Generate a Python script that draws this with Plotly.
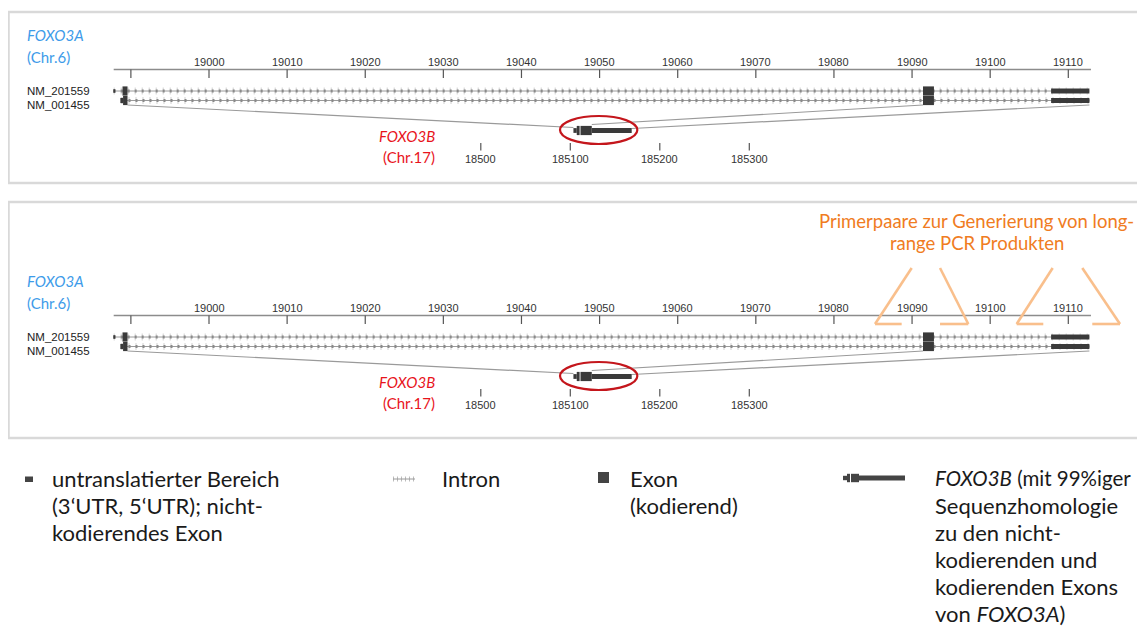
import plotly.graph_objects as go

# ---------------- data ----------------
chr6_tick_kb = [18990, 19000, 19010, 19020, 19030, 19040, 19050, 19060, 19070, 19080, 19090, 19100, 19110]
chr6_tick_labels = ["", "19000", "19010", "19020", "19030", "19040", "19050", "19060",
                    "19070", "19080", "19090", "19100", "19110"]
chr6_axis_span = [18987.8, 19112.9]

chr17_tick_pos = [185000, 185100, 185200, 185300]
chr17_tick_labels = ["18500", "185100", "185200", "185300"]

transcripts = ["NM_201559", "NM_001455"]
transcript_start = [18987.8, 18988.8]
transcript_end = [19112.7, 19112.7]
exons_nm201559 = [(18987.75, 18988.0, "dot"), (18988.93, 18989.57, "cds"),
                  (19091.4, 19092.8, "cds"), (19107.8, 19112.7, "utr")]
exons_nm001455 = [(18988.65, 18989.0, "utr"), (18989.0, 18989.57, "cds"),
                  (19091.4, 19092.8, "cds"), (19107.8, 19112.7, "utr")]
transcript_exons = [exons_nm201559, exons_nm001455]

foxo3b_parts = [(185103.5, 185107.2, "utr"), (185107.2, 185110.4, "cds"),
                (185111.4, 185124.0, "cds"), (185124.0, 185168.6, "utr")]
foxo3b_ellipse = [185088.5, 185174.9]

# homology links: (chr6 kb, chr17 position)
links = [(18989.57, 185103.5), (19091.4, 185124.0), (19112.7, 185168.6)]

# primer pairs (bottom panel): horizontal segment kb and apex kb of diagonal
primer_seg = [(19085.26, 19088.67), (19093.58, 19097.20), (19103.39, 19106.80), (19113.07, 19116.62)]
primer_apex = [19089.95, 19093.58, 19108.0, 19111.79]
primer_foot = [19085.26, 19097.20, 19103.39, 19116.62]

legend_items = [
    ["untranslatierter Bereich", "(3‘UTR, 5‘UTR); nicht-", "kodierendes Exon"],
    ["Intron"],
    ["Exon", "(kodierend)"],
    ["<i>FOXO3B</i> (mit 99%iger", "Sequenzhomologie", "zu den nicht-", "kodierenden und",
     "kodierenden Exons", "von <i>FOXO3A</i>)"],
]

# ---------------- layout constants ----------------
W, H = 1145, 628          # page size
OX, OY = 8, 8             # default page body margin
FW, FH = W - OX, H - OY   # figure size
PX_PER_KB = 7.8118
KB0 = 19000 - 209 / PX_PER_KB           # kb at page x = 0
X_RANGE = [KB0 + OX / PX_PER_KB, KB0 + W / PX_PER_KB]
PX_PER_U17 = 0.895
U17_0 = 185100 - 570.3 / PX_PER_U17     # chr17 unit at page x = 0
X2_RANGE = [U17_0 + OX / PX_PER_U17, U17_0 + W / PX_PER_U17]
PANEL_OFFSETS = [0, 246]
AXIS_Y = 69.5
TICK_LABEL_Y = 62
ROW_Y = [91, 100.5]
ROW_LABEL_Y = [90.5, 104.5]
F3B_Y = 130.5
DARK = "#3a3a3a"
GREY = "#8c8c8c"
BLUE = "#3d9be9"
RED = "#e8141c"
ORANGE = "#f07c22"
AXFONT = "Liberation Sans"
TXTFONT = "Lato"


def px(xp):
    return (xp - OX) / FW


def c17_to_c6(v):
    return X_RANGE[0] + (v - X2_RANGE[0]) / (X2_RANGE[1] - X2_RANGE[0]) * (X_RANGE[1] - X_RANGE[0])


fig = go.Figure()
shapes = []
annotations = []

for off in PANEL_OFFSETS:
    # chr6 axis line
    fig.add_trace(go.Scatter(x=chr6_axis_span, y=[AXIS_Y + off] * 2, mode="lines",
                             line=dict(color=GREY, width=1.6), hoverinfo="skip", showlegend=False))
    tx, ty = [], []
    for k in chr6_tick_kb:
        tx += [k, k, None]
        ty += [AXIS_Y + off, AXIS_Y + off + 8.5, None]
    fig.add_trace(go.Scatter(x=tx, y=ty, mode="lines", line=dict(color="#555555", width=1.2),
                             hoverinfo="skip", showlegend=False))
    for k, lab in zip(chr6_tick_kb, chr6_tick_labels):
        if lab:
            annotations.append(dict(x=k, y=TICK_LABEL_Y + off, xref="x", yref="y", text=lab,
                                    showarrow=False, xanchor="center",
                                    font=dict(family=AXFONT, size=11, color="#333333")))

    # transcripts: introns
    for i in range(2):
        yy = ROW_Y[i] + off
        xs = [transcript_start[i], transcript_end[i]]
        fig.add_trace(go.Scatter(x=xs, y=[yy, yy], mode="lines",
                                 line=dict(color="rgba(190,190,190,0.7)", width=7, dash="1px,6px"),
                                 hoverinfo="skip", showlegend=False))
        fig.add_trace(go.Scatter(x=xs, y=[yy, yy], mode="lines",
                                 line=dict(color="#9a9a9a", width=1),
                                 hoverinfo="skip", showlegend=False))
        fig.add_trace(go.Scatter(x=xs, y=[yy, yy], mode="lines",
                                 line=dict(color="#8a8a8a", width=3, dash="2px,5px"),
                                 hoverinfo="skip", showlegend=False))
        for (s, e, kind) in transcript_exons[i]:
            h = {"cds": 4.6, "utr": 2.6, "dot": 1.8}[kind]
            shapes.append(dict(type="rect", xref="x", yref="y", x0=s, x1=e, y0=yy - h, y1=yy + h,
                               fillcolor=DARK, line=dict(width=0)))
        annotations.append(dict(x=px(25), y=ROW_LABEL_Y[i] + off, xref="paper", yref="y",
                                text=transcripts[i], showarrow=False, xanchor="left",
                                font=dict(family=AXFONT, size=11.5, color="#222222")))

    # homology links
    link_end_y = [127.5, 124.5, 128.5]
    for (k6, p17), ey in zip(links, link_end_y):
        fig.add_trace(go.Scatter(x=[k6, c17_to_c6(p17)], y=[ROW_Y[1] + off + 4.5, ey + off],
                                 mode="lines", line=dict(color="#9a9a9a", width=1.2),
                                 hoverinfo="skip", showlegend=False))

    # FOXO3B glyph
    for (s, e, kind) in foxo3b_parts:
        h = {"cds": 4.6, "utr": 2.4}[kind]
        shapes.append(dict(type="rect", xref="x2", yref="y", x0=s, x1=e, y0=F3B_Y + off - h,
                           y1=F3B_Y + off + h, fillcolor=DARK, line=dict(width=0)))
    shapes.append(dict(type="circle", xref="x2", yref="y", x0=foxo3b_ellipse[0], x1=foxo3b_ellipse[1],
                       y0=116 + off, y1=144 + off, line=dict(color="#c4161c", width=2.2)))

    # chr17 ticks
    tx, ty = [], []
    for p in chr17_tick_pos:
        tx += [p, p, None]
        ty += [143 + off, 150.5 + off, None]
    fig.add_trace(go.Scatter(x=tx, y=ty, xaxis="x2", mode="lines", line=dict(color="#555555", width=1.2),
                             hoverinfo="skip", showlegend=False))
    for p, lab in zip(chr17_tick_pos, chr17_tick_labels):
        annotations.append(dict(x=p, y=158.5 + off, xref="x2", yref="y", text=lab, showarrow=False,
                                xanchor="center",
                                font=dict(family=AXFONT, size=11, color="#333333")))

    # gene labels
    annotations.append(dict(x=px(25), y=35 + off, xref="paper", yref="y", text="<i>FOXO3A</i>",
                            showarrow=False, xanchor="left", font=dict(family=TXTFONT, size=15, color=BLUE)))
    annotations.append(dict(x=px(25), y=57 + off, xref="paper", yref="y", text="(Chr.6)",
                            showarrow=False, xanchor="left", font=dict(family=TXTFONT, size=15, color=BLUE)))
    annotations.append(dict(x=px(437), y=135.5 + off, xref="paper", yref="y", text="<i>FOXO3B</i>",
                            showarrow=False, xanchor="right", font=dict(family=TXTFONT, size=15, color=RED)))
    annotations.append(dict(x=px(437), y=156.5 + off, xref="paper", yref="y", text="(Chr.17)",
                            showarrow=False, xanchor="right", font=dict(family=TXTFONT, size=15, color=RED)))

# panel borders
for (y0, y1) in [(12, 183), (202, 438)]:
    shapes.append(dict(type="rect", xref="paper", yref="y", x0=px(8.5), x1=1.01, y0=y0, y1=y1,
                       line=dict(color="#d9d9d9", width=2.5), fillcolor="rgba(0,0,0,0)", layer="below"))

# primers (bottom panel)
for (s, e), apex, foot in zip(primer_seg, primer_apex, primer_foot):
    fig.add_trace(go.Scatter(x=[apex, foot, None, s, e], y=[268, 324, None, 324, 324],
                             mode="lines", line=dict(color="#f9bf8c", width=2.6),
                             hoverinfo="skip", showlegend=False))
annotations.append(dict(x=px(976.5), y=220.5, xref="paper", yref="y", xanchor="center",
                        text="Primerpaare zur Generierung von long-", showarrow=False,
                        font=dict(family=TXTFONT, size=18.5, color=ORANGE)))
annotations.append(dict(x=px(976.5), y=243, xref="paper", yref="y", xanchor="center",
                        text="range PCR Produkten", showarrow=False,
                        font=dict(family=TXTFONT, size=18.5, color=ORANGE)))

# legend glyphs
shapes.append(dict(type="rect", xref="paper", yref="y", x0=px(25), x1=px(33), y0=476.5, y1=482,
                   fillcolor="#444444", line=dict(width=0)))
shapes.append(dict(type="line", xref="paper", yref="y", x0=px(393), x1=px(415), y0=479, y1=479,
                   line=dict(color="rgba(170,170,170,0.8)", width=5, dash="1px,3px")))
shapes.append(dict(type="line", xref="paper", yref="y", x0=px(393), x1=px(415), y0=479, y1=479,
                   line=dict(color="#9a9a9a", width=1)))
shapes.append(dict(type="rect", xref="paper", yref="y", x0=px(598), x1=px(609), y0=472, y1=483,
                   fillcolor="#444444", line=dict(width=0)))
for (a, b, h) in [(843, 847, 2.2), (847, 850, 4.2), (851, 859, 4.2), (859, 905, 2.4)]:
    shapes.append(dict(type="rect", xref="paper", yref="y", x0=px(a), x1=px(b), y0=478 - h, y1=478 + h,
                       fillcolor="#444444", line=dict(width=0)))

legend_x = [50, 440, 628, 933]
for lx, lines in zip(legend_x, legend_items):
    for j, t in enumerate(lines):
        size = 20.5 if t.startswith("<i>FOXO3B") else 22
        annotations.append(dict(x=px(lx), y=478 + j * 27, xref="paper", yref="y", text=t,
                                showarrow=False, xanchor="left",
                                font=dict(family=TXTFONT, size=size, color="#1a1a1a")))

fig.update_layout(
    width=FW, height=FH, autosize=False,
    margin=dict(l=0, r=0, t=0, b=0),
    paper_bgcolor="white", plot_bgcolor="white",
    xaxis=dict(range=X_RANGE, visible=False, domain=[0, 1]),
    xaxis2=dict(range=X2_RANGE, visible=False, overlaying="x"),
    yaxis=dict(range=[H, OY], visible=False, domain=[0, 1]),
    shapes=shapes, annotations=annotations,
    showlegend=False,
)

fig.write_html("out.html")
